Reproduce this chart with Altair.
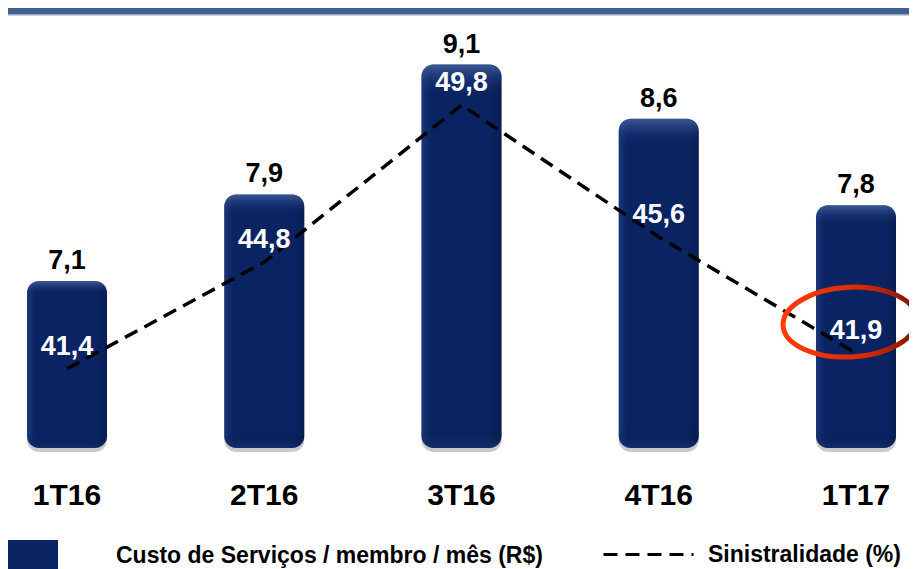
import altair as alt
import pandas as pd

# ---- data ----
trimestres = ["1T16", "2T16", "3T16", "4T16", "1T17"]
custo = [7.1, 7.9, 9.1, 8.6, 7.8]                  # Custo de Serviços / membro / mês (R$)
sinistralidade = [41.4, 44.8, 49.8, 45.6, 41.9]    # Sinistralidade (%)
serie_barra = "Custo de Serviços / membro / mês (R$)"
serie_linha = "Sinistralidade (%)"
destaque = "1T17"

df = pd.DataFrame({
    "trimestre": trimestres,
    "custo": custo,
    "sinistralidade": sinistralidade,
    "serie_barra": [serie_barra] * len(trimestres),
    "serie_linha": [serie_linha] * len(trimestres),
})

FONT = "Liberation Sans, Arial, sans-serif"
W, H = 901, 440
NAVY = "#0a2463"
BAR_DOMAIN = [5.557, 9.623]
LINE_DOMAIN = [38.878, 52.891]

x_enc = alt.X(
    "trimestre:N",
    sort=trimestres,
    scale=alt.Scale(type="band", paddingInner=0.5944, paddingOuter=0.0811, align=0.594),
    axis=alt.Axis(title=None, domain=False, ticks=False, labelAngle=0,
                  labelFont=FONT, labelFontSize=30, labelFontWeight="bold",
                  labelColor="#000000", labelPadding=32, zindex=1),
)
y_bar = alt.Y("custo:Q", scale=alt.Scale(domain=BAR_DOMAIN, zero=False, nice=False), axis=None)
y2_bar = alt.datum(BAR_DOMAIN[0])
y_line = alt.Y("sinistralidade:Q", scale=alt.Scale(domain=LINE_DOMAIN, zero=False, nice=False), axis=None)

base = alt.Chart(df).transform_calculate(
    custo_txt="replace(format(datum.custo, '.1f'), '.', ',')",
    sin_txt="replace(format(datum.sinistralidade, '.1f'), '.', ',')",
)

# top decorative band
band_df = pd.DataFrame({"k": [0]})
top_band = alt.Chart(band_df).mark_rect(color="#3f5f8c").encode(
    x=alt.value(0), x2=alt.value(W), y=alt.value(0), y2=alt.value(6))
top_line = alt.Chart(band_df).mark_rect(color="#93a7c6").encode(
    x=alt.value(0), x2=alt.value(W), y=alt.value(6), y2=alt.value(7.5))

shadow = base.mark_bar(color="#8a8a8a", opacity=0.45, cornerRadius=12,
                       yOffset=4, y2Offset=4).encode(x=x_enc, y=y_bar, y2=y2_bar)

bars = base.mark_bar(cornerRadius=12).encode(
    x=x_enc, y=y_bar, y2=y2_bar,
    fill=alt.Fill("serie_barra:N", scale=alt.Scale(range=[NAVY]),
                  legend=alt.Legend(orient="none", legendX=0, legendY=523, title=None,
                                    symbolType="M-1,-0.64H1V0.64H-1Z", symbolSize=2500,
                                    symbolStrokeWidth=0, labelOffset=58,
                                    labelFont=FONT, labelFontSize=23,
                                    labelFontWeight="bold", labelColor="#000000",
                                    labelLimit=700, padding=0)),
)

shade_h = base.mark_bar(cornerRadius=12, color={
    "gradient": "linear", "x1": 0, "x2": 1, "y1": 0, "y2": 0,
    "stops": [
        {"offset": 0, "color": "rgba(70,100,170,0.30)"},
        {"offset": 0.12, "color": "rgba(40,70,140,0.0)"},
        {"offset": 0.85, "color": "rgba(0,0,0,0.0)"},
        {"offset": 1, "color": "rgba(0,0,20,0.18)"},
    ]}).encode(x=x_enc, y=y_bar, y2=y2_bar)

shade_v = base.mark_bar(cornerRadius=12, color={
    "gradient": "linear", "x1": 0, "x2": 0, "y1": 0, "y2": 1,
    "stops": [
        {"offset": 0, "color": "rgba(110,140,200,0.50)"},
        {"offset": 0.05, "color": "rgba(60,90,160,0.14)"},
        {"offset": 0.10, "color": "rgba(0,0,0,0.0)"},
        {"offset": 0.94, "color": "rgba(0,0,0,0.0)"},
        {"offset": 1, "color": "rgba(40,70,140,0.30)"},
    ]}).encode(x=x_enc, y=y_bar, y2=y2_bar)

bar_labels = base.mark_text(font=FONT, fontSize=27, fontWeight="bold",
                            color="#000000", baseline="bottom", dy=-6).encode(
    x=x_enc, y=y_bar, text="custo_txt:N")

line = base.mark_line(color="#000000", strokeWidth=3.5).encode(
    x=x_enc, y=y_line,
    strokeDash=alt.StrokeDash("serie_linha:N", scale=alt.Scale(range=[[14, 8]]),
                              legend=alt.Legend(orient="none", legendX=594, legendY=500,
                                                title=None, symbolType="stroke",
                                                symbolSize=8100, symbolStrokeWidth=3,
                                                symbolStrokeColor="#000000",
                                                symbolDash=[12, 6.5],
                                                labelOffset=13, labelFont=FONT,
                                                labelFontSize=23, labelFontWeight="bold",
                                                labelColor="#000000", labelLimit=400,
                                                padding=0)),
)

line_labels = base.mark_text(font=FONT, fontSize=27, fontWeight="bold",
                             color="#ffffff", baseline="middle", dy=-22).encode(
    x=x_enc, y=y_line, text="sin_txt:N")

ellipse = base.transform_filter(alt.datum.trimestre == destaque).mark_point(
    shape="M-1,0A1,0.52,0,1,1,1,0A1,0.52,0,1,1,-1,0Z",
    size=17956, filled=False, strokeWidth=5, angle=357,
    xOffset=-6, yOffset=-31, opacity=1,
    stroke={"gradient": "linear", "x1": 0, "x2": 1, "y1": 0, "y2": 0,
            "stops": [{"offset": 0, "color": "#ff3a0a"},
                      {"offset": 0.6, "color": "#d82a06"},
                      {"offset": 1, "color": "#7e1402"}]},
).encode(x=x_enc, y=y_line)

chart = alt.layer(
    top_band, top_line, shadow, bars, shade_h, shade_v, bar_labels,
    line, line_labels, ellipse,
).resolve_scale(y="independent").properties(
    width=W, height=H,
    autosize=alt.AutoSizeParams(type="none"),
    padding={"left": 0, "top": 0, "right": 0, "bottom": 121},
    background="#ffffff",
).configure_view(stroke=None)

chart.save("out.html", embed_options={"renderer": "svg", "actions": False})
